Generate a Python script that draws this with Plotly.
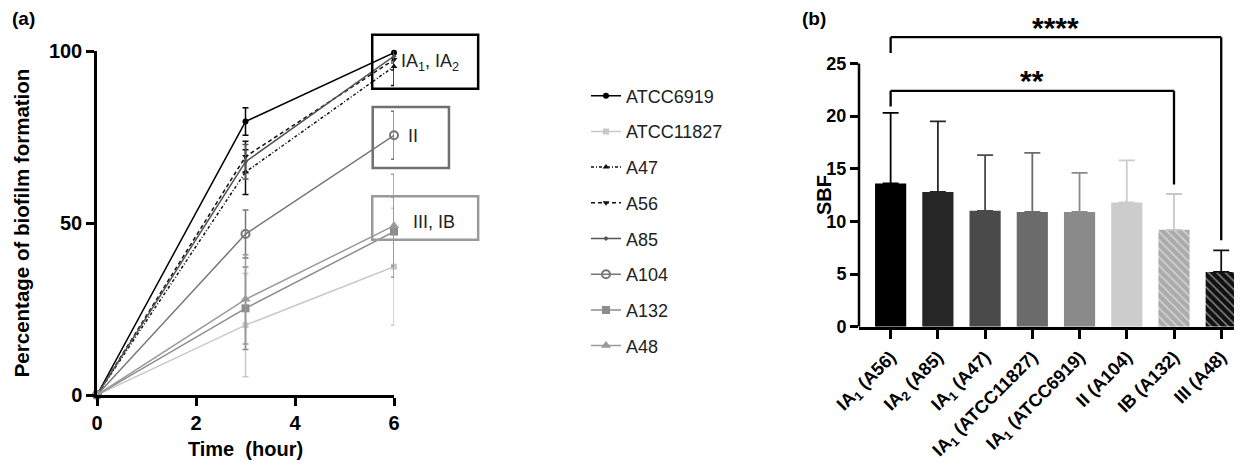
import plotly.graph_objects as go

# ---------------- data: panel (a) ----------------
time_h = [0, 3, 6]
series_names = ["ATCC6919", "ATCC11827", "A47", "A56", "A85", "A104", "A132", "A48"]
atcc6919 = [0, 79.5, 99.5]
atcc11827 = [0, 20.3, 37.3]
a47 = [0, 64.8, 95.5]
a56 = [0, 69.3, 97.5]
a85 = [0, 67.8, 98.5]
a104 = [0, 46.8, 75.5]
a132 = [0, 25.2, 47.5]
a48 = [0, 27.8, 49.2]
err_atcc6919 = [0, 4, 1.5]
err_atcc11827 = [0, 15, 17]
err_a47 = [0, 6.5, 5.5]
err_a56 = [0, 4.5, 3]
err_a85 = [0, 5, 2]
err_a104 = [0, 7, 7]
err_a132 = [0, 12, 10]
err_a48 = [0, 13, 15]

# ---------------- data: panel (b) ----------------
sbf_labels = ["IA<sub>1</sub> (A56)", "IA<sub>2</sub> (A85)", "IA<sub>1</sub> (A47)",
              "IA<sub>1</sub> (ATCC11827)", "IA<sub>1</sub> (ATCC6919)", "II (A104)",
              "IB (A132)", "III (A48)"]
sbf_mean = [13.6, 12.8, 11.0, 10.9, 10.9, 11.8, 9.2, 5.2]
sbf_sd = [6.7, 6.7, 5.3, 5.6, 3.7, 4.0, 3.4, 2.05]

FONT = "Liberation Sans, Arial, sans-serif"

# page body has an 8px margin: figure is sized/positioned to compensate
OFF = 8
W, H = 1242 - OFF, 466 - OFF
def px_x(px):
    return (px - OFF) / W
def px_y(py):
    return 1 - (py - OFF) / H

fig = go.Figure()

# ---------- panel (a) traces ----------
styles = [
    dict(color="#000000", dash="solid", symbol="circle", size=6),
    dict(color="#c8c8c8", dash="solid", symbol="square", size=6),
    dict(color="#111111", dash="3px,2px,1px,2px", symbol="triangle-up", size=6),
    dict(color="#111111", dash="4px,3px", symbol="triangle-down", size=6),
    dict(color="#555555", dash="solid", symbol="diamond", size=4),
    dict(color="#777777", dash="solid", symbol="circle-open", size=8),
    dict(color="#8c8c8c", dash="solid", symbol="square", size=8),
    dict(color="#9a9a9a", dash="solid", symbol="triangle-up", size=9),
]
ys = [atcc6919, atcc11827, a47, a56, a85, a104, a132, a48]
errs = [err_atcc6919, err_atcc11827, err_a47, err_a56, err_a85, err_a104, err_a132, err_a48]

for name, y, e, st in zip(series_names, ys, errs, styles):
    fig.add_trace(go.Scatter(
        x=time_h, y=y, name=name, mode="lines+markers",
        line=dict(color=st["color"], width=1.5, dash=st["dash"]),
        marker=dict(symbol=st["symbol"], size=st["size"], color=st["color"],
                    line=dict(color=st["color"], width=2 if "open" in st["symbol"] else 0)),
        error_y=dict(type="data", array=e, color=st["color"], thickness=1.5, width=3),
        cliponaxis=False, xaxis="x", yaxis="y", legendgroup=name,
    ))

# ---------- panel (b) traces ----------
bar_colors = ["#000000", "#262626", "#4a4a4a", "#6b6b6b", "#8a8a8a", "#cccccc", "#ababab", "#111111"]
err_colors = ["#000000", "#262626", "#4a4a4a", "#6b6b6b", "#8a8a8a", "#cccccc", "#c8c8c8", "#111111"]
for i, (lab, m, s) in enumerate(zip(sbf_labels, sbf_mean, sbf_sd)):
    pattern = dict(shape="\\", fgcolor="#ffffff", bgcolor=bar_colors[i], size=6, solidity=0.25) \
        if i >= 6 else None
    fig.add_trace(go.Bar(
        x=[lab], y=[m], width=0.66, showlegend=False,
        marker=dict(color=bar_colors[i], line=dict(width=0), pattern=pattern),
        error_y=dict(type="data", array=[s], arrayminus=[0], symmetric=False,
                     color=err_colors[i], thickness=1.8, width=8),
        xaxis="x2", yaxis="y2",
    ))

axis_common = dict(showgrid=False, zeroline=False, linecolor="black", linewidth=2.5,
                   ticks="outside", tickwidth=2.5, tickcolor="black", ticklen=8,
                   automargin=False)

PX_PER_SBF = 10.53
Y2_ZERO_PX = 326.7
def sbf_at_px(py):
    return (Y2_ZERO_PX - py) / PX_PER_SBF
Y2_TOP = sbf_at_px(OFF)  # value at the top edge of the figure

fig.update_layout(
    width=W, height=H,
    margin=dict(l=0, r=0, t=0, b=0, autoexpand=False),
    paper_bgcolor="white", plot_bgcolor="white",
    font=dict(family=FONT, color="black"),
    barmode="overlay",
    xaxis=dict(domain=[px_x(97), px_x(394)], range=[0, 6], tickvals=[0, 2, 4, 6],
               showline=True, anchor="y",
               tickfont=dict(size=20, weight="bold"),
               title=dict(text="Time\u00a0\u00a0(hour)", font=dict(size=20, weight="bold"), standoff=10),
               **axis_common),
    yaxis=dict(domain=[px_y(395), px_y(51)], range=[0, 100], tickvals=[0, 50, 100],
               showline=True, anchor="x",
               tickfont=dict(size=20, weight="bold"),
               title=dict(text="Percentage of biofilm formation", font=dict(size=20.5, weight="bold"), standoff=14),
               **axis_common),
    xaxis2=dict(domain=[px_x(859), 1.0], range=[-0.67, 7.44], anchor="y2",
                showline=True, type="category", categoryorder="array", categoryarray=sbf_labels,
                tickangle=-45, tickfont=dict(size=18, weight="bold"), ticklen=10,
                **{k: v for k, v in axis_common.items() if k != "ticklen"}),
    yaxis2=dict(domain=[px_y(Y2_ZERO_PX), 1.0], range=[0, Y2_TOP], tickvals=[0, 5, 10, 15, 20, 25],
                showline=False, anchor="x2",
                tickfont=dict(size=18, weight="bold"),
                **axis_common),
    legend=dict(x=px_x(586), y=px_y(77.5), xanchor="left", yanchor="top",
                font=dict(size=18, family=FONT, color="#222222"),
                tracegroupgap=9.3, itemwidth=30, bgcolor="rgba(0,0,0,0)"),
)

# y-axis line for panel (b), only from 0 to 25
fig.add_shape(type="line", xref="x2 domain", yref="y2", x0=0, x1=0, y0=0, y1=25,
              line=dict(color="black", width=2.5))

# significance brackets (panel b)
def bracket(i0, i1, y_top, y_left, y_right):
    for (xa, ya, xb, yb) in [(i0, y_left, i0, y_top), (i0, y_top, i1, y_top), (i1, y_top, i1, y_right)]:
        fig.add_shape(type="line", xref="x2", yref="y2", x0=xa, y0=ya, x1=xb, y1=yb,
                      line=dict(color="black", width=2.3))

bracket(0, 7, 27.5, 26.0, 8.2)
bracket(0, 6, 22.4, 20.9, 13.5)
fig.add_annotation(x=3.5, y=sbf_at_px(8.6), xref="x2", yref="y2", text="<b>****</b>", showarrow=False,
                   font=dict(size=30, family=FONT), xanchor="center", yanchor="top")
fig.add_annotation(x=3.0, y=sbf_at_px(62), xref="x2", yref="y2", text="<b>**</b>", showarrow=False,
                   font=dict(size=30, family=FONT), xanchor="center", yanchor="top")

# group boxes (panel a) given in data units, converted to axis-domain fractions
XMAX, YMAX = 6.0, 100.0
boxes = [
    (5.56, 7.70, 89.0, 104.7, "#000000", "IA<sub>1</sub>, IA<sub>2</sub>", 6.72, 96.8),
    (5.57, 7.11, 66.0, 83.7, "#707070", "II", 6.38, 75.3),
    (5.56, 7.70, 45.1, 57.8, "#9a9a9a", "III, IB", 6.81, 50.3),
]
for x0, x1, y0, y1, col, txt, tx, ty in boxes:
    fig.add_shape(type="rect", xref="x domain", yref="y domain",
                  x0=x0/XMAX, x1=x1/XMAX, y0=y0/YMAX, y1=y1/YMAX,
                  line=dict(color=col, width=2.5))
    fig.add_annotation(xref="x domain", yref="y domain", x=tx/XMAX, y=ty/YMAX, text=txt,
                       showarrow=False, xanchor="center", yanchor="middle",
                       font=dict(size=18, family=FONT, color="#222222"))

# panel labels and SBF title
fig.add_annotation(xref="paper", yref="paper", x=px_x(10), y=px_y(18), text="<b>(a)</b>",
                   showarrow=False, xanchor="left", yanchor="middle", font=dict(size=19, family=FONT))
fig.add_annotation(xref="paper", yref="paper", x=px_x(800), y=px_y(18), text="<b>(b)</b>",
                   showarrow=False, xanchor="left", yanchor="middle", font=dict(size=19, family=FONT))
fig.add_annotation(xref="paper", yref="y2", x=px_x(824), y=12.5, text="<b>SBF</b>", textangle=-90,
                   showarrow=False, xanchor="center", yanchor="middle", font=dict(size=20, family=FONT))

fig.write_html("out.html")
